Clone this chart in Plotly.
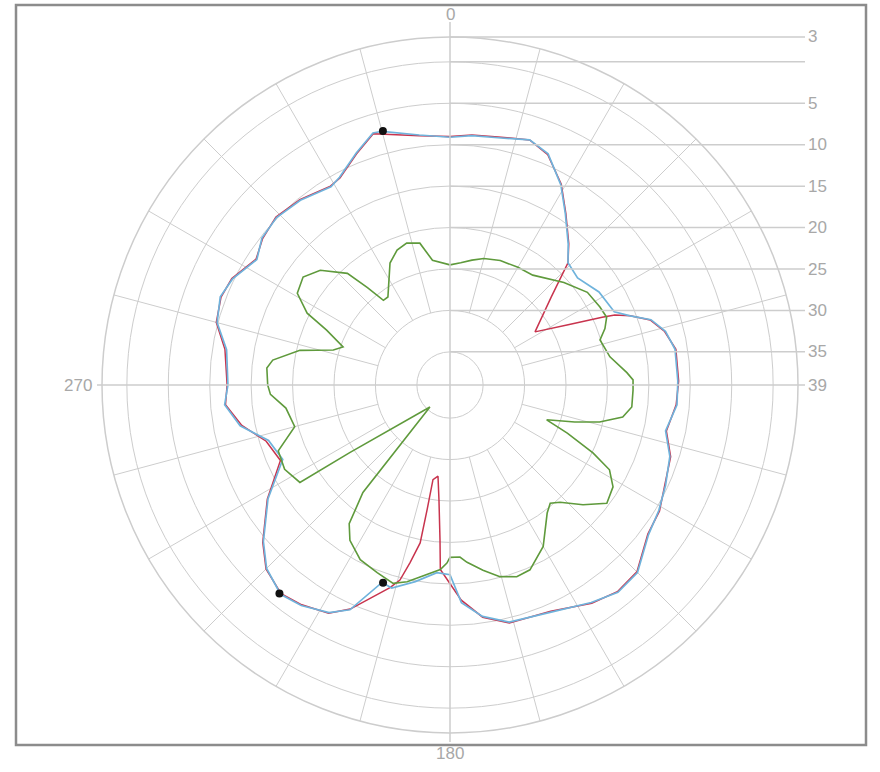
import plotly.graph_objects as go

# ---- measured pattern data: bearing (deg, clockwise from north) and level (dB) ----
blue_theta = [0, 5, 11, 18, 23, 29, 34, 40, 44, 50, 58, 62, 66, 69, 72, 76, 81, 89, 95, 102,
              108, 115, 121, 127, 135, 141, 147, 156, 166, 172, 177, 180, 184, 190, 196, 199,
              204, 208, 214, 219, 225, 230, 238, 246, 253, 259, 265, 270, 279, 285, 291, 296,
              303, 308, 314, 321, 329, 332, 338, 343, 345, 353, 360]
blue_gain = [-9.1, -8.8, -8.6, -7.9, -8.7, -11.4, -14.1, -16.8, -18.5, -18.9, -17.8, -17.6, -17.3,
             -15.7, -13.5, -12.2, -11.5, -11.5, -11.5, -12.4, -11.1, -10.3, -9.6, -9.0, -7.0,
             -6.8, -7.7, -9.0, -9.5, -10.8, -12.7, -16.1, -16.3, -14.9, -13.5, -13.8, -9.3, -7.9,
             -6.9, -6.5, -7.7, -9.6, -13.1, -16.9, -16.1, -13.2, -11.7, -12.2, -11.7, -9.9,
             -9.3, -9.8, -11.2, -10.2, -9.9, -10.3, -11.1, -10.6, -8.8, -7.2, -7.3, -8.6, -9.1]

red_theta = [0, 5, 11, 18, 23, 29, 34, 40, 44, 49, 58, 63, 66, 67, 69, 72, 76, 81, 89, 95, 102,
             108, 115, 121, 127, 135, 141, 147, 156, 166, 172, 177, 183, 183.7, 185.5, 187.5,
             190.2, 190.4, 190.7, 192.7, 194.4, 196.5, 204, 208, 214, 219, 225, 230, 238, 246,
             253, 259, 265, 270, 279, 285, 291, 296, 303, 308, 314, 321, 329, 332, 338, 343,
             353, 360]
red_gain = [-9.0, -8.7, -8.5, -7.9, -8.8, -11.3, -14.0, -16.7, -18.5, -22.8, -26.9, -23.0, -18.9,
            -17.4, -15.7, -13.6, -12.3, -11.4, -11.4, -11.6, -12.3, -11.0, -10.4, -9.5, -9.1,
            -7.1, -6.9, -7.6, -9.1, -9.4, -10.7, -13.0, -16.7, -20.3, -25.1, -27.9, -27.4, -23.7,
            -19.6, -17.0, -14.7, -13.5, -9.4, -7.8, -7.0, -6.6, -7.6, -9.5, -13.0, -16.6, -15.8,
            -13.4, -11.8, -12.1, -11.5, -9.8, -9.4, -9.7, -11.1, -10.3, -9.8, -10.2, -11.0,
            -10.7, -8.9, -7.3, -8.7, -9.0]

green_theta = [0, 5, 10, 15, 22, 30, 37, 48, 56, 62.5, 66.6, 70, 73.3, 80, 86, 88.4, 91.6, 96.9,
               100.5, 103.9, 106.5, 109.8, 112.3, 115.4, 118, 122, 127, 132, 136.8, 139.7, 142.8,
               150, 156.6, 160.8, 165.4, 169.9, 174.5, 176.7, 180, 181, 183, 192.3, 196, 201.2,
               207.2, 212.8, 216, 219, 222.3, 236, 237, 243, 249, 255, 262, 267, 270, 275.3,
               278, 283, 286.7, 289.6, 294, 296.7, 301, 306.3, 311.5, 317.4, 319.7, 321.8,
               324.8, 333.8, 338.6, 343, 348, 352, 360]
green_gain = [-24.5, -24.2, -23.7, -23.2, -22.8, -22.6, -22.4, -20.5, -19.0, -18.6, -18.4, -19.1,
              -20.1, -19.4, -17.6, -16.9, -16.9, -16.9, -17.8, -20.4, -23.3, -26.6, -23.7, -19.9,
              -17.2, -15.8, -15.3, -17.4, -19.6, -20.3, -19.6, -16.5, -14.7, -14.5, -15.1, -16.3,
              -17.5, -18.2, -18.2, -17.5, -16.7, -14.7, -14.1, -14.7, -15.3, -16.7, -18.3, -22.3,
              -35.4, -24.4, -17.4, -16.6, -16.8, -19.6, -19.0, -17.3, -17.0, -16.8, -17.4, -20.4,
              -24.3, -25.3, -22.7, -19.7, -17.5, -17.0, -18.1, -20.7, -23.6, -26.0, -26.0, -22.6,
              -21.5, -21.1, -21.5, -23.8, -24.5]

marker_theta = [345.2, 198.7, 219.3]
marker_gain = [-7.3, -13.8, -6.5]

# ---- scale ----
R_MIN, R_MAX = -39, 3
ring_values = [-35, -30, -25, -20, -15, -10, -5, 0, 3]
ring_labels = ["35", "30", "25", "20", "15", "10", "5", "", "3"]
center_label = "39"
spoke_step = 15
spoke_inner = -30

# ---- page geometry (pixels) ----
W, H = 880, 772
CX, CY, RPX = 450, 385, 348
px_per_db = RPX / (R_MAX - R_MIN)
LABEL_X = 805

def px(x):
    return x / W

def py(y):
    return 1 - y / H

GRID = "#cdcdcd"
TEXT = "#a8a8a8"
LABEL_FONT = dict(size=17, color=TEXT, family="Liberation Sans")

fig = go.Figure()

# radial spokes (every 15 degrees, starting from the 30 dB ring)
sp_t, sp_r = [], []
for a in range(0, 360, spoke_step):
    if a % 90 == 0:
        continue
    sp_t += [a, a, None]
    sp_r += [spoke_inner, R_MAX, None]
fig.add_trace(go.Scatterpolar(theta=sp_t, r=sp_r, mode="lines", connectgaps=False,
                              line=dict(color=GRID, width=1), hoverinfo="skip", showlegend=False))

fig.add_trace(go.Scatterpolar(theta=red_theta, r=red_gain, mode="lines",
                              line=dict(color="#c8344e", width=1.5), showlegend=False))
fig.add_trace(go.Scatterpolar(theta=blue_theta, r=blue_gain, mode="lines",
                              line=dict(color="#6fb3dc", width=1.7), showlegend=False))
fig.add_trace(go.Scatterpolar(theta=green_theta, r=green_gain, mode="lines",
                              line=dict(color="#5f9a3c", width=1.6), showlegend=False))
fig.add_trace(go.Scatterpolar(theta=marker_theta, r=marker_gain, mode="markers",
                              marker=dict(color="#111111", size=8), showlegend=False))

shapes = []
annotations = []

# crosshair axes through the centre
shapes.append(dict(type="line", xref="paper", yref="paper",
                   x0=px(97), x1=px(LABEL_X), y0=py(CY), y1=py(CY),
                   line=dict(color=GRID, width=1.5)))
shapes.append(dict(type="line", xref="paper", yref="paper",
                   x0=px(CX), x1=px(CX), y0=py(22), y1=py(742),
                   line=dict(color=GRID, width=1.5)))

# leader lines from each ring to its level label
for v, lab in zip(ring_values, ring_labels):
    ry = CY - (v - R_MIN) * px_per_db
    shapes.append(dict(type="line", xref="paper", yref="paper",
                       x0=px(CX), x1=px(LABEL_X), y0=py(ry), y1=py(ry),
                       line=dict(color=GRID, width=1.5)))
    if lab:
        annotations.append(dict(x=px(LABEL_X + 1), y=py(ry), xref="paper", yref="paper",
                                text=lab, showarrow=False, xanchor="left", yanchor="middle",
                                font=LABEL_FONT))
annotations.append(dict(x=px(LABEL_X + 1), y=py(CY), xref="paper", yref="paper",
                        text=center_label, showarrow=False, xanchor="left", yanchor="middle",
                        font=LABEL_FONT))

# bearing labels
for txt, x, y, xa in [("0", CX, 15, "center"), ("180", CX, 753, "center"), ("270", 94, CY, "right")]:
    annotations.append(dict(x=px(x), y=py(y), xref="paper", yref="paper", text=txt,
                            showarrow=False, xanchor=xa, yanchor="middle", font=LABEL_FONT))

# outer frame
shapes.append(dict(type="rect", xref="paper", yref="paper",
                   x0=px(16), x1=px(866), y0=py(745), y1=py(5),
                   line=dict(color="#8c8c8c", width=2.5)))

fig.update_layout(
    width=W, height=H,
    margin=dict(l=0, r=0, t=0, b=0),
    paper_bgcolor="white",
    plot_bgcolor="white",
    showlegend=False,
    shapes=shapes,
    annotations=annotations,
    polar=dict(
        domain=dict(x=[px(CX - RPX), px(CX + RPX)], y=[py(CY + RPX), py(CY - RPX)]),
        bgcolor="white",
        radialaxis=dict(range=[R_MIN, R_MAX], tickvals=ring_values[:-1], showticklabels=False,
                        ticks="", showline=False, gridcolor=GRID, gridwidth=1),
        angularaxis=dict(rotation=90, direction="clockwise", showgrid=False,
                         showticklabels=False, ticks="", linecolor=GRID, linewidth=1.5),
    ),
)

fig.write_html("out.html")
